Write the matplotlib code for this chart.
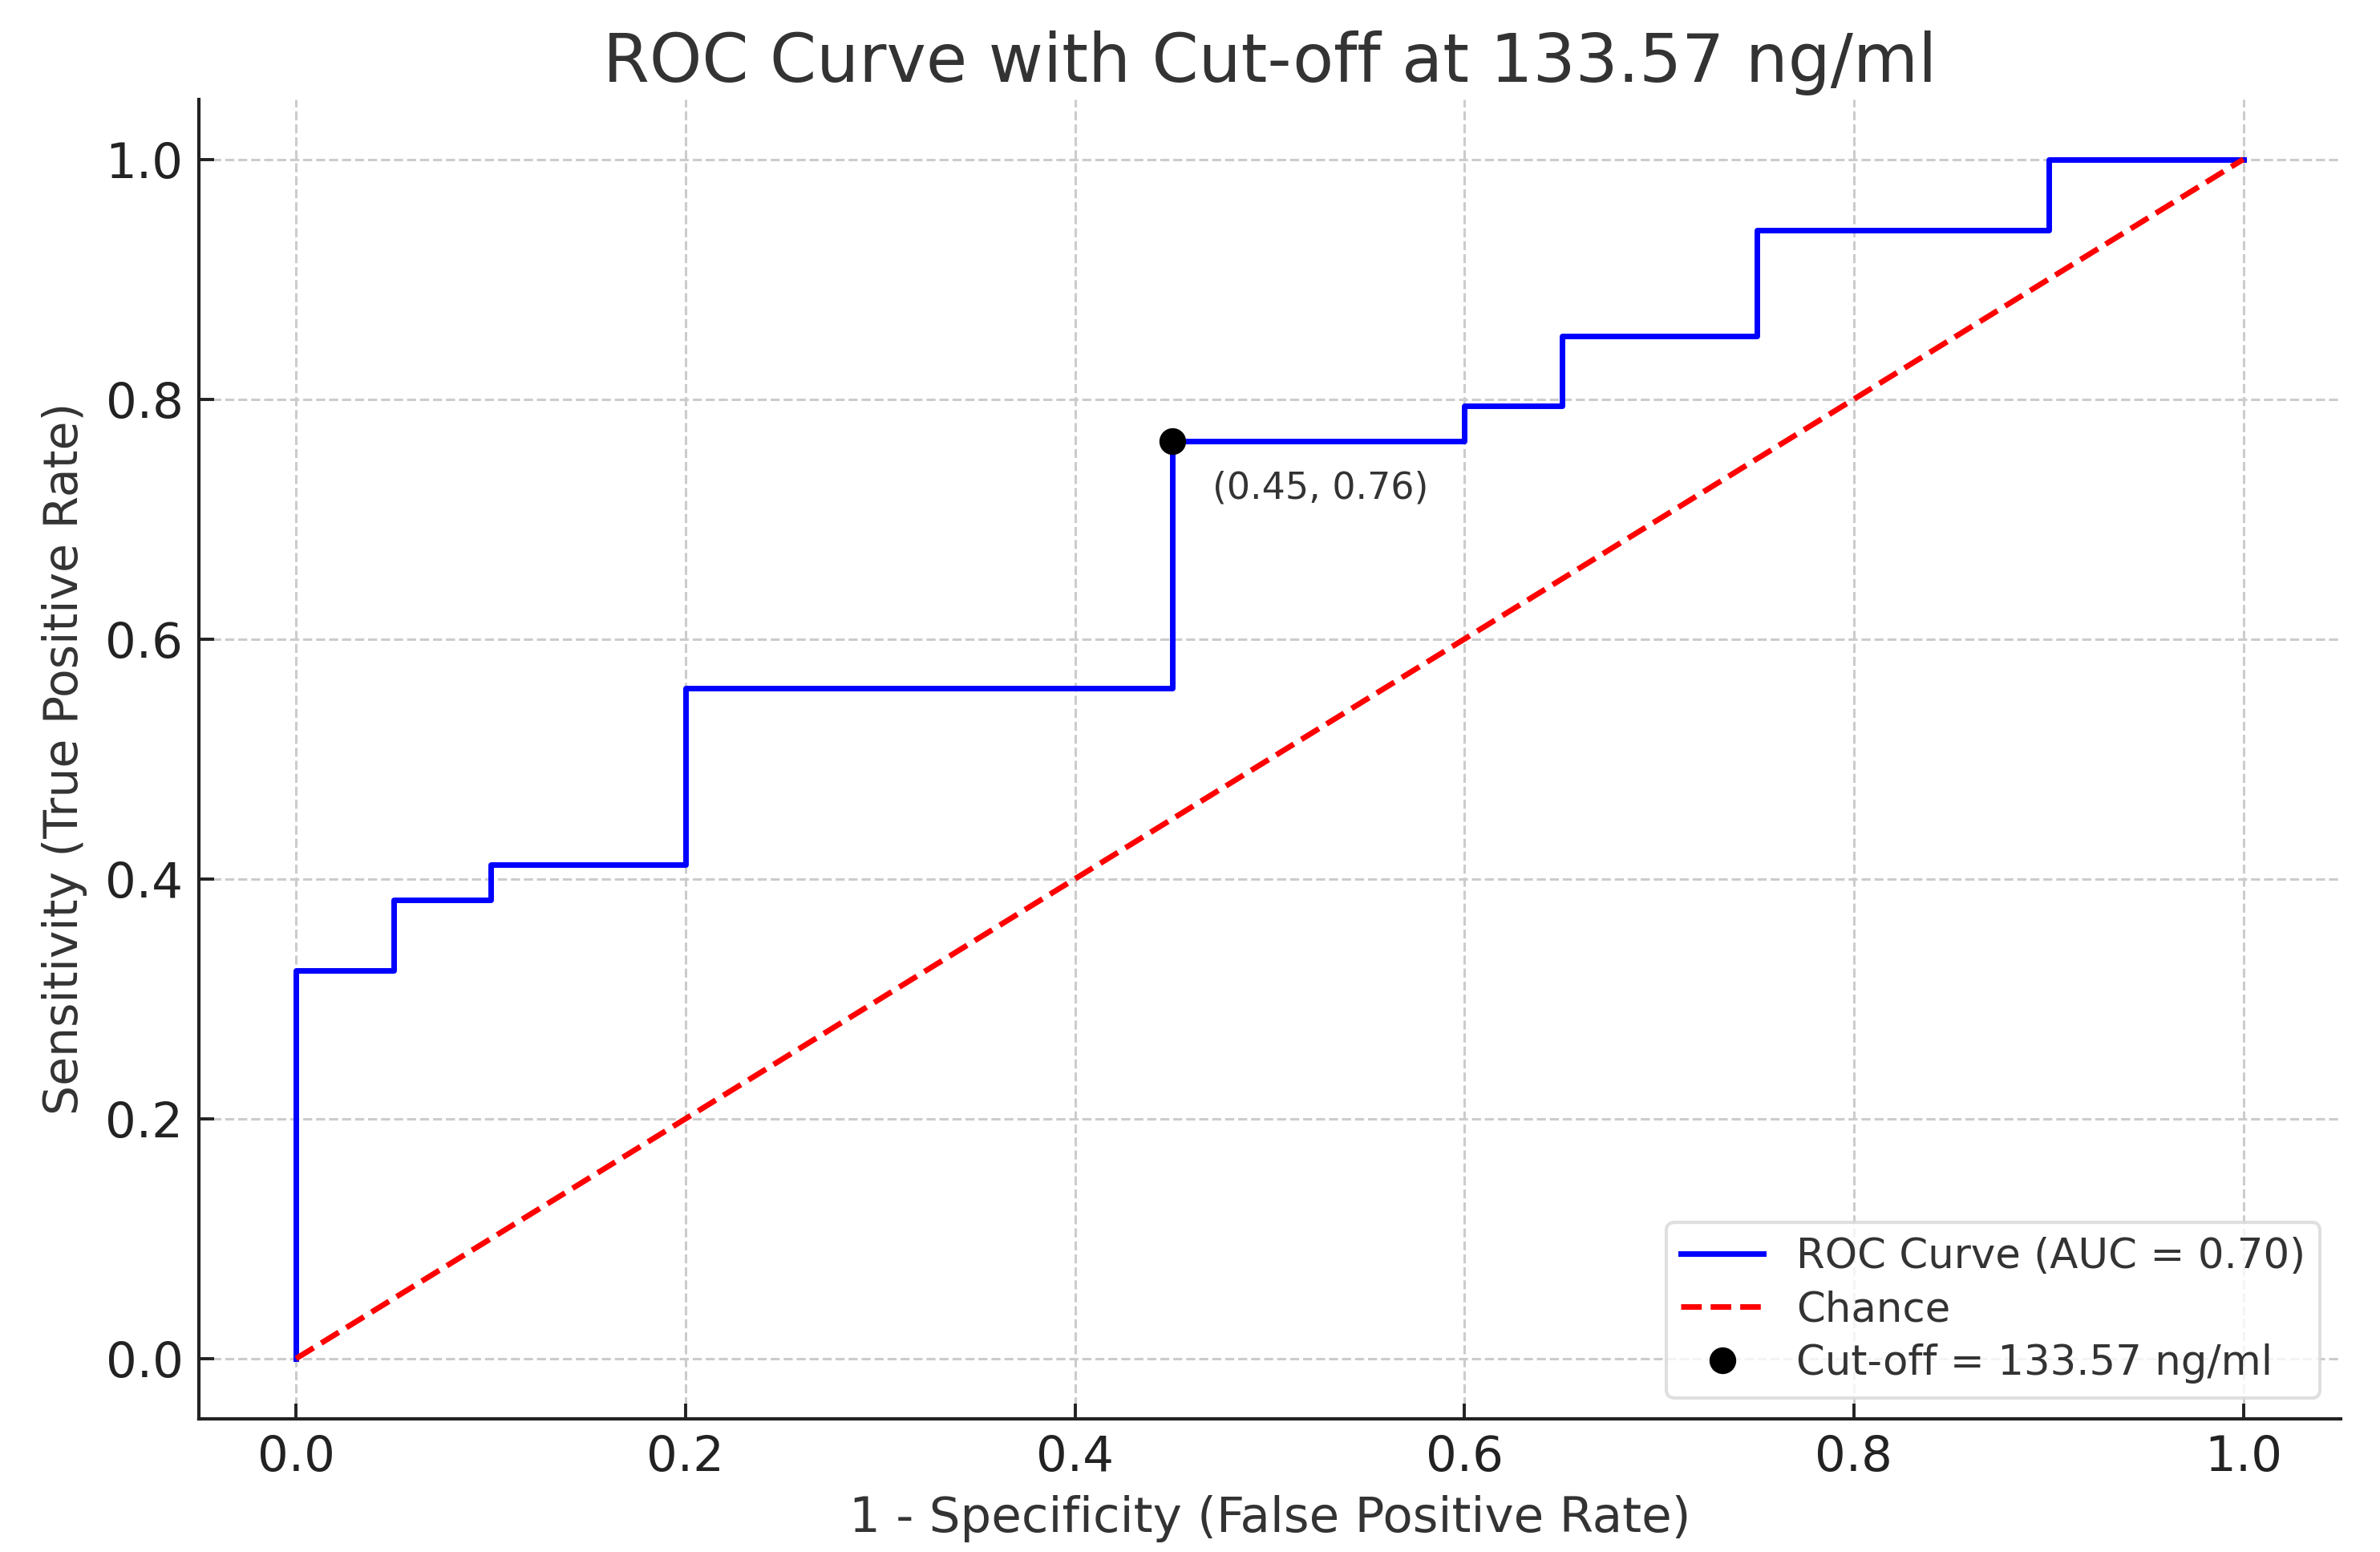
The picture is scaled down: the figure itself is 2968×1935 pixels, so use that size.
import matplotlib
matplotlib.use("Agg")
import matplotlib.pyplot as plt

# ── data ─────────────────────────────────────────────
fpr = [0.0, 0.0, 0.05, 0.05, 0.10, 0.10, 0.20, 0.20, 0.45, 0.45,
       0.60, 0.60, 0.65, 0.65, 0.75, 0.75, 0.90, 0.90, 1.0]
tpr = [0.0, 0.3235, 0.3235, 0.3824, 0.3824, 0.4118, 0.4118, 0.5588, 0.5588, 0.7647,
       0.7647, 0.7941, 0.7941, 0.8529, 0.8529, 0.9412, 0.9412, 1.0, 1.0]
chance = [0.0, 1.0]
auc_val = 0.70
cutoff_value = 133.57
cutoff_fpr = 0.45
cutoff_tpr = 0.7647

plt.rcParams['font.family'] = ['DejaVu Sans']

fig = plt.figure(figsize=(14.84, 9.675), dpi=200)
ax = fig.add_axes([0.0835, 0.086, 0.90, 0.850])

ax.plot(fpr, tpr, color='blue', lw=2.5,
        label=f'ROC Curve (AUC = {auc_val:.2f})')
ax.plot(chance, chance, color='red', lw=2.5, ls='--', label='Chance')
ax.plot(cutoff_fpr, cutoff_tpr, 'o', color='black', ms=11,
        label=f'Cut-off = {cutoff_value} ng/ml', zorder=5)
ax.annotate(f'({cutoff_fpr:.2f}, {cutoff_tpr:.2f})', (cutoff_fpr, cutoff_tpr),
            textcoords='offset points', xytext=(18, -21), ha='left', va='center',
            fontsize=16.5, color='#333333')

ax.set_xlim(-0.05, 1.05)
ax.set_ylim(-0.05, 1.05)
ax.set_xticks([0.0, 0.2, 0.4, 0.6, 0.8, 1.0])
ax.set_yticks([0.0, 0.2, 0.4, 0.6, 0.8, 1.0])
ax.grid(True, ls='--', color='#cccccc', lw=1.1)
ax.set_axisbelow(True)

for s in ['top', 'right']:
    ax.spines[s].set_visible(False)
for s in ['left', 'bottom']:
    ax.spines[s].set_linewidth(1.5)
    ax.spines[s].set_color('#222222')
ax.tick_params(direction='in', length=7, width=1.4, labelsize=22,
               colors='#222222', pad=7)

ax.set_title(f'ROC Curve with Cut-off at {cutoff_value} ng/ml',
             fontsize=30, color='#333333', pad=8)
ax.set_xlabel('1 - Specificity (False Positive Rate)', fontsize=22, color='#333333',
              labelpad=6)
ax.set_ylabel('Sensitivity (True Positive Rate)', fontsize=21, color='#333333',
              labelpad=8)

leg = ax.legend(loc='lower right', fontsize=18.5, frameon=True, fancybox=True,
                labelspacing=0.32, borderpad=0.35)
leg.get_frame().set_edgecolor('#d8d8d8')
leg.get_frame().set_linewidth(1.5)
for t in leg.get_texts():
    t.set_color('#333333')

fig.savefig('out.png', dpi=200)
